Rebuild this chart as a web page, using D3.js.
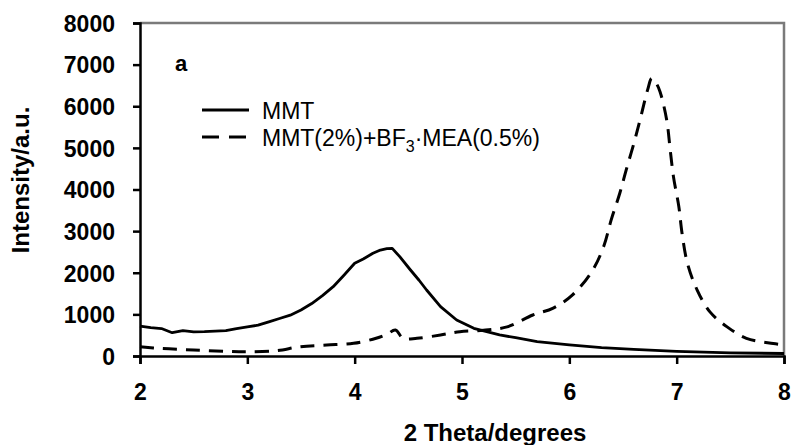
<!DOCTYPE html>
<html>
<head>
<meta charset="utf-8">
<script src="https://cdn.jsdelivr.net/npm/d3@7"></script>
<style>
  body { margin: 0; background: #fff; }
  svg { display: block; font-family: "Liberation Sans", Arial, sans-serif; }
</style>
</head>
<body>
<svg width="795" height="445"></svg>
<script>
// --- data ---
const mmtX = [2.0, 2.1, 2.2, 2.3, 2.4, 2.5, 2.6, 2.7, 2.8, 2.9, 3.0, 3.1, 3.2, 3.3, 3.4, 3.5, 3.6, 3.7, 3.8, 3.9, 4.0, 4.08, 4.17, 4.24, 4.3, 4.35, 4.42, 4.52, 4.6, 4.67, 4.8, 4.95, 5.11, 5.23, 5.35, 5.5, 5.7, 6.0, 6.3, 6.6, 7.0, 7.5, 8.0];
const mmtY = [720, 680, 660, 560, 610, 580, 585, 600, 610, 660, 700, 740, 820, 900, 980, 1105, 1260, 1450, 1665, 1940, 2227, 2330, 2467, 2546, 2580, 2587, 2386, 2066, 1820, 1586, 1185, 865, 665, 584, 505, 440, 345, 265, 200, 160, 110, 75, 60];

const blendX = [2.0, 2.2, 2.5, 2.8, 3.0, 3.27, 3.49, 3.74, 3.99, 4.2, 4.3, 4.38, 4.45, 4.58, 4.8, 4.98, 5.2, 5.42, 5.66, 5.85, 6.03, 6.21, 6.32, 6.39, 6.47, 6.53, 6.61, 6.674, 6.73, 6.768, 6.81, 6.845, 6.907, 6.94, 6.97, 7.02, 7.05, 7.1, 7.19, 7.31, 7.47, 7.65, 7.9, 8.0];
const blendY = [220, 180, 145, 110, 100, 127, 223, 264, 305, 425, 520, 625, 425, 425, 505, 585, 620, 700, 985, 1150, 1470, 2030, 2630, 3270, 3910, 4470, 5190, 5830, 6400, 6671, 6550, 6350, 5670, 4950, 4310, 3590, 2950, 2230, 1590, 1060, 700, 425, 300, 265];

const xTicks = [2, 3, 4, 5, 6, 7, 8];
const yTicks = [0, 1000, 2000, 3000, 4000, 5000, 6000, 7000, 8000];

const svg = d3.select("svg");

// plot area (pixel frame of the reference)
const plotL = 140, plotR = 784, plotT = 23, plotB = 356;

const x = d3.scaleLinear().domain([2, 8]).range([plotL, plotR]);
const y = d3.scaleLinear().domain([0, 8000]).range([plotB, plotT]);

// gray frame on top and right
svg.append("path")
    .attr("d", `M${plotL},${plotT}H${plotR}V${plotB}`)
    .attr("fill", "none")
    .attr("stroke", "#7a7a7a")
    .attr("stroke-width", 2.5);

// axes
const xAxis = svg.append("g")
    .attr("transform", `translate(0,${plotB})`)
    .call(d3.axisBottom(x).tickValues(xTicks).tickSize(8).tickPadding(20).tickFormat(d3.format("d")));

const yAxis = svg.append("g")
    .attr("transform", `translate(${plotL},0)`)
    .call(d3.axisLeft(y).tickValues(yTicks).tickSize(7).tickPadding(18).tickFormat(d3.format("d")));

[xAxis, yAxis].forEach(ax => {
    ax.select(".domain").attr("stroke", "#000").attr("stroke-width", 2.5);
    ax.selectAll(".tick line").attr("stroke", "#000").attr("stroke-width", 2.5);
    ax.selectAll(".tick text")
        .attr("fill", "#000")
        .style("font-size", "23px")
        .style("font-weight", "bold")
        .style("font-family", "'Liberation Sans', Arial, sans-serif");
});
yAxis.selectAll(".tick text").attr("dy", "0.36em");

// curves
const line = d3.line()
    .x(d => x(d[0]))
    .y(d => y(d[1]));

const mmt = mmtX.map((v, i) => [v, mmtY[i]]);
const blend = blendX.map((v, i) => [v, blendY[i]]);

svg.append("path")
    .datum(blend)
    .attr("d", line.curve(d3.curveCatmullRom.alpha(0.5)))
    .attr("fill", "none")
    .attr("stroke", "#000")
    .attr("stroke-width", 3)
    .attr("stroke-dasharray", "14,9");

svg.append("path")
    .datum(mmt)
    .attr("d", line.curve(d3.curveLinear))
    .attr("fill", "none")
    .attr("stroke", "#000")
    .attr("stroke-width", 2.8)
    .attr("stroke-linejoin", "round");

// panel label
svg.append("text")
    .attr("x", 175).attr("y", 71)
    .style("font-size", "22px").style("font-weight", "bold")
    .text("a");

// legend
const legend = svg.append("g");
legend.append("line")
    .attr("x1", 202).attr("x2", 249).attr("y1", 110).attr("y2", 110)
    .attr("stroke", "#000").attr("stroke-width", 3);
legend.append("text")
    .attr("x", 262).attr("y", 119)
    .style("font-size", "23px")
    .text("MMT");

legend.append("line")
    .attr("x1", 202).attr("x2", 249).attr("y1", 137).attr("y2", 137)
    .attr("stroke", "#000").attr("stroke-width", 3)
    .attr("stroke-dasharray", "17,10");
const t2 = legend.append("text")
    .attr("x", 262).attr("y", 146)
    .style("font-size", "23px");
t2.append("tspan").text("MMT(2%)+BF");
t2.append("tspan").attr("dy", 6).style("font-size", "16px").text("3");
t2.append("tspan").attr("dy", -6).text("·MEA(0.5%)");

// axis titles
svg.append("text")
    .attr("x", 495).attr("y", 441)
    .attr("text-anchor", "middle")
    .style("font-size", "24px").style("font-weight", "bold")
    .text("2 Theta/degrees");

svg.append("text")
    .attr("transform", "translate(29,180) rotate(-90)")
    .attr("text-anchor", "middle")
    .style("font-size", "24px").style("font-weight", "bold")
    .text("Intensity/a.u.");
</script>
</body>
</html>
